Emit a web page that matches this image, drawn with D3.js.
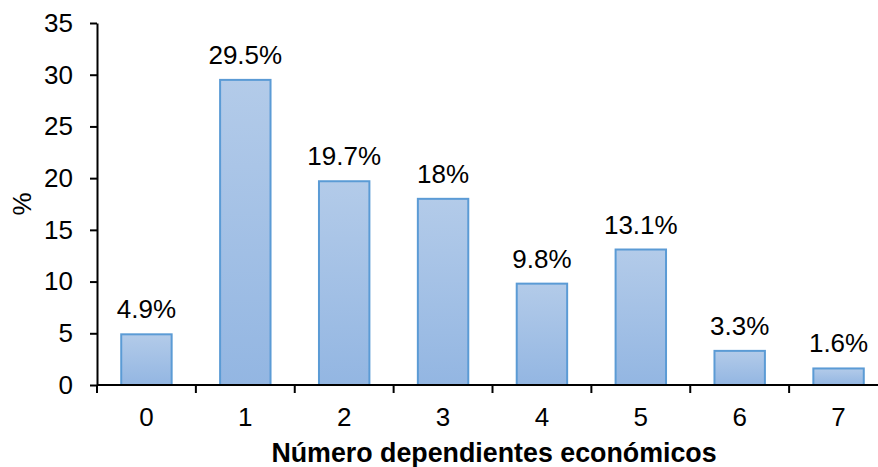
<!DOCTYPE html>
<html lang="es">
<head>
<meta charset="UTF-8">
<title>Número dependientes económicos</title>
<script src="https://d3js.org/d3.v7.min.js"></script>
<style>
  body { margin: 0; background: #fff; }
  svg { display: block; font-family: Arial, "Liberation Sans", sans-serif; }
</style>
</head>
<body>
<svg></svg>
<script>
// data
const categories = ["0", "1", "2", "3", "4", "5", "6", "7"];
const values = [4.9, 29.5, 19.7, 18, 9.8, 13.1, 3.3, 1.6];
const yTicks = [0, 5, 10, 15, 20, 25, 30, 35];

const width = 878, height = 467;
const margin = {top: 23, right: -10, bottom: 82, left: 97};

const svg = d3.select("svg")
    .attr("width", width)
    .attr("height", height);

// gradient for the bars, light on top, a bit darker at the base
const grad = svg.append("defs").append("linearGradient")
    .attr("id", "barFill")
    .attr("x1", 0).attr("y1", 0).attr("x2", 0).attr("y2", 1);
grad.append("stop").attr("offset", "0%").attr("stop-color", "#b3cbe9");
grad.append("stop").attr("offset", "100%").attr("stop-color", "#93b6e2");

const x = d3.scaleBand()
    .domain(categories)
    .range([margin.left, width - margin.right])
    .paddingInner(0.49)
    .paddingOuter(0.245);

const y = d3.scaleLinear()
    .domain([0, 35])
    .range([height - margin.bottom, margin.top]);

// bars
svg.append("g")
  .selectAll("rect")
  .data(values)
  .join("rect")
    .attr("x", (d, i) => x(categories[i]))
    .attr("y", d => y(d))
    .attr("width", x.bandwidth())
    .attr("height", d => y(0) - y(d))
    .attr("fill", "url(#barFill)")
    .attr("stroke", "#5b9bd5")
    .attr("stroke-width", 2);

// value labels
svg.append("g")
  .selectAll("text")
  .data(values)
  .join("text")
    .attr("x", (d, i) => x(categories[i]) + x.bandwidth() / 2)
    .attr("y", d => y(d) - 16)
    .attr("text-anchor", "middle")
    .attr("font-size", 26)
    .attr("fill", "#000")
    .text(d => d + "%");

// y axis
const yAxis = svg.append("g")
    .attr("transform", `translate(${margin.left},0)`)
    .call(d3.axisLeft(y).tickValues(yTicks).tickSize(7).tickPadding(17).tickSizeOuter(0));
yAxis.selectAll("text").attr("font-size", 26).attr("fill", "#000");
yAxis.selectAll("line, path").attr("stroke", "#000").attr("stroke-width", 2);

// x axis, ticks on the band edges
const xAxisG = svg.append("g")
    .attr("transform", `translate(0,${y(0)})`);
xAxisG.append("line")
    .attr("x1", margin.left).attr("x2", width)
    .attr("stroke", "#000").attr("stroke-width", 2);
const step = x.step();
xAxisG.selectAll(".edge")
  .data(d3.range(categories.length + 1))
  .join("line")
    .attr("class", "edge")
    .attr("x1", i => margin.left + i * step)
    .attr("x2", i => margin.left + i * step)
    .attr("y1", 0).attr("y2", 8)
    .attr("stroke", "#000").attr("stroke-width", 2);
xAxisG.selectAll(".lbl")
  .data(categories)
  .join("text")
    .attr("class", "lbl")
    .attr("x", d => x(d) + x.bandwidth() / 2)
    .attr("y", 41)
    .attr("text-anchor", "middle")
    .attr("font-size", 26)
    .text(d => d);

// axis titles
svg.append("text")
    .attr("x", 494)
    .attr("y", 462)
    .attr("text-anchor", "middle")
    .attr("font-size", 26.8)
    .attr("font-weight", "bold")
    .text("Número dependientes económicos");

svg.append("text")
    .attr("transform", "translate(31,204) rotate(-90)")
    .attr("text-anchor", "middle")
    .attr("font-size", 26)
    .text("%");
</script>
</body>
</html>
